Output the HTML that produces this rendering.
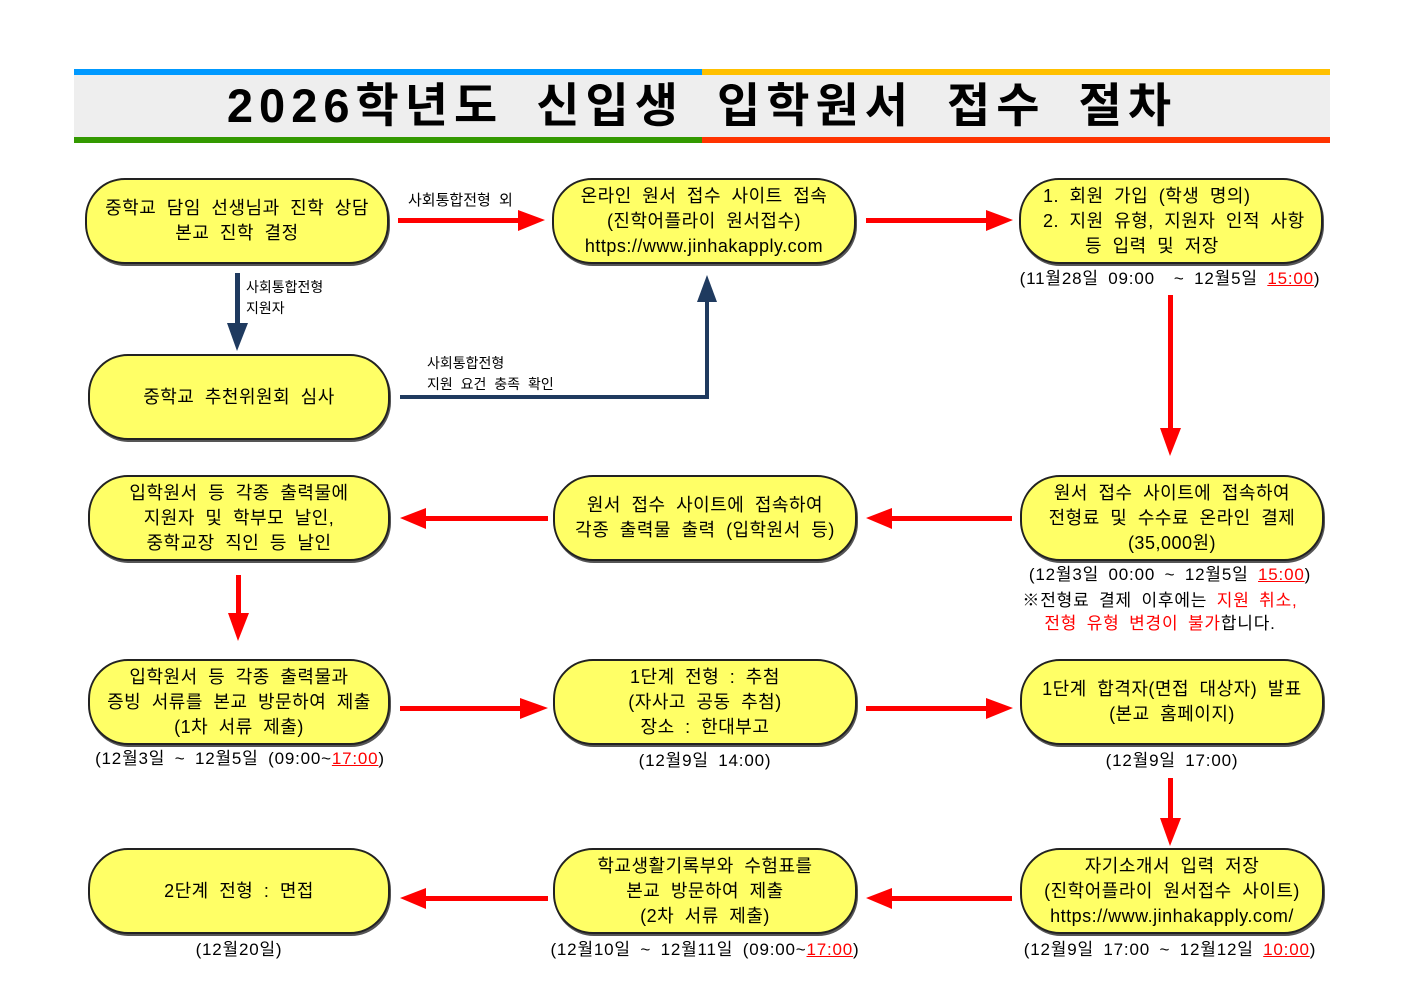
<!DOCTYPE html>
<html><head><meta charset="utf-8"><style>
body{margin:0;width:1403px;height:992px;background:#fff;position:relative;overflow:hidden;font-family:"Liberation Sans","Noto Sans CJK KR","NanumGothic",sans-serif;}
.n{position:absolute;box-sizing:border-box;background:#ffff66;border:2px solid #222;border-radius:40px;display:flex;align-items:center;justify-content:center;text-align:center;font-size:18px;line-height:25px;color:#000;box-shadow:1px 2px 0 #555;letter-spacing:0.5px;word-spacing:5px;white-space:nowrap;}
.t{position:absolute;font-size:17px;color:#000;white-space:nowrap;text-align:center;line-height:25px;letter-spacing:0.8px;word-spacing:4px;}
.r{color:#f00}.u{color:#f00;text-decoration:underline}
.s{position:absolute;font-size:14px;line-height:21px;color:#000;white-space:nowrap;word-spacing:4px;}
</style></head><body>
<div style="position:absolute;left:74px;top:69px;width:628px;height:6px;background:#0099ff"></div>
<div style="position:absolute;left:702px;top:69px;width:628px;height:6px;background:#ffc000"></div>
<div style="position:absolute;left:74px;top:75px;width:1256px;height:62px;background:#eeeeee"></div>
<div style="position:absolute;left:74px;top:137px;width:628px;height:6px;background:#339900"></div>
<div style="position:absolute;left:702px;top:137px;width:628px;height:6px;background:#ff3300"></div>
<div style="position:absolute;left:74px;top:75px;width:1256px;height:62px;line-height:62px;text-align:center;font-size:47px;font-weight:bold;letter-spacing:6px;word-spacing:14px;">2026학년도 신입생 입학원서 접수 절차</div>

<svg width="1403" height="992" style="position:absolute;left:0;top:0">
<g fill="#ff0000" stroke="none">
<rect x="398" y="218" width="122" height="5"/><polygon points="518,210 545,220 518,231"/>
<rect x="866" y="218" width="122" height="5"/><polygon points="986,210 1013,220 986,231"/>
<rect x="1168" y="295" width="5" height="135"/><polygon points="1160,428 1170,456 1181,428"/>
<rect x="890" y="516" width="122" height="5"/><polygon points="892,508 866,518 892,529"/>
<rect x="424" y="516" width="124" height="5"/><polygon points="426,508 400,518 426,529"/>
<rect x="236" y="575" width="5" height="40"/><polygon points="228,613 238,641 249,613"/>
<rect x="400" y="706" width="122" height="5"/><polygon points="520,698 548,708 520,719"/>
<rect x="866" y="706" width="122" height="5"/><polygon points="986,698 1013,708 986,719"/>
<rect x="1168" y="778" width="5" height="42"/><polygon points="1160,818 1170,846 1181,818"/>
<rect x="890" y="896" width="122" height="5"/><polygon points="892,888 866,898 892,909"/>
<rect x="424" y="896" width="124" height="5"/><polygon points="426,888 400,898 426,909"/>
</g>
<g fill="#1f3a5f">
<rect x="235" y="273" width="5" height="52"/><polygon points="227,323 237,351 248,323"/>
<rect x="400" y="395" width="309" height="4"/><rect x="705" y="300" width="4" height="99"/><polygon points="697,302 707,275 717,302"/>
</g>
</svg>

<div class="n" style="left:85px;top:178px;width:304px;height:86px">중학교 담임 선생님과 진학 상담<br>본교 진학 결정</div>
<div class="n" style="left:552px;top:178px;width:304px;height:86px">온라인 원서 접수 사이트 접속<br>(진학어플라이 원서접수)<br>https://www.jinhakapply.com</div>
<div class="n" style="left:1019px;top:178px;width:304px;height:86px;text-align:left;justify-content:flex-start;padding-left:22px">1. 회원 가입 (학생 명의)<br>2. 지원 유형, 지원자 인적 사항<br>&nbsp;&nbsp;&nbsp;&nbsp;등 입력 및 저장</div>
<div class="n" style="left:88px;top:354px;width:302px;height:86px">중학교 추천위원회 심사</div>
<div class="n" style="left:88px;top:475px;width:302px;height:86px">입학원서 등 각종 출력물에<br>지원자 및 학부모 날인,<br>중학교장 직인 등 날인</div>
<div class="n" style="left:553px;top:475px;width:304px;height:86px">원서 접수 사이트에 접속하여<br>각종 출력물 출력 (입학원서 등)</div>
<div class="n" style="left:1020px;top:475px;width:304px;height:86px">원서 접수 사이트에 접속하여<br>전형료 및 수수료 온라인 결제<br>(35,000원)</div>
<div class="n" style="left:88px;top:659px;width:302px;height:86px">입학원서 등 각종 출력물과<br>증빙 서류를 본교 방문하여 제출<br>(1차 서류 제출)</div>
<div class="n" style="left:553px;top:659px;width:304px;height:86px">1단계 전형 : 추첨<br>(자사고 공동 추첨)<br>장소 : 한대부고</div>
<div class="n" style="left:1020px;top:659px;width:304px;height:86px">1단계 합격자(면접 대상자) 발표<br>(본교 홈페이지)</div>
<div class="n" style="left:88px;top:848px;width:302px;height:86px">2단계 전형 : 면접</div>
<div class="n" style="left:553px;top:848px;width:304px;height:86px">학교생활기록부와 수험표를<br>본교 방문하여 제출<br>(2차 서류 제출)</div>
<div class="n" style="left:1020px;top:848px;width:304px;height:86px">자기소개서 입력 저장<br>(진학어플라이 원서접수 사이트)<br>https://www.jinhakapply.com/</div>

<div class="s" style="left:408px;top:190px;font-size:15px">사회통합전형 외</div>
<div class="s" style="left:246px;top:277px">사회통합전형<br>지원자</div>
<div class="s" style="left:427px;top:353px">사회통합전형<br>지원 요건 충족 확인</div>

<div class="t" style="left:990px;top:266px;width:360px">(11월28일 09:00 &nbsp;~ 12월5일 <span class="u">15:00</span>)</div>
<div class="t" style="left:990px;top:562px;width:360px">(12월3일 00:00 ~ 12월5일 <span class="u">15:00</span>)</div>
<div class="t" style="left:990px;top:588px;width:340px">※전형료 결제 이후에는 <span class="r">지원 취소,</span></div>
<div class="t" style="left:990px;top:611px;width:340px"><span class="r">전형 유형 변경이 불가</span>합니다.</div>
<div class="t" style="left:40px;top:746px;width:400px">(12월3일 ~ 12월5일 (09:00~<span class="u">17:00</span>)</div>
<div class="t" style="left:553px;top:748px;width:304px">(12월9일 14:00)</div>
<div class="t" style="left:1020px;top:748px;width:304px">(12월9일 17:00)</div>
<div class="t" style="left:88px;top:937px;width:302px">(12월20일)</div>
<div class="t" style="left:500px;top:937px;width:410px">(12월10일 ~ 12월11일 (09:00~<span class="u">17:00</span>)</div>
<div class="t" style="left:965px;top:937px;width:410px">(12월9일 17:00 ~ 12월12일 <span class="u">10:00</span>)</div>
</body></html>
